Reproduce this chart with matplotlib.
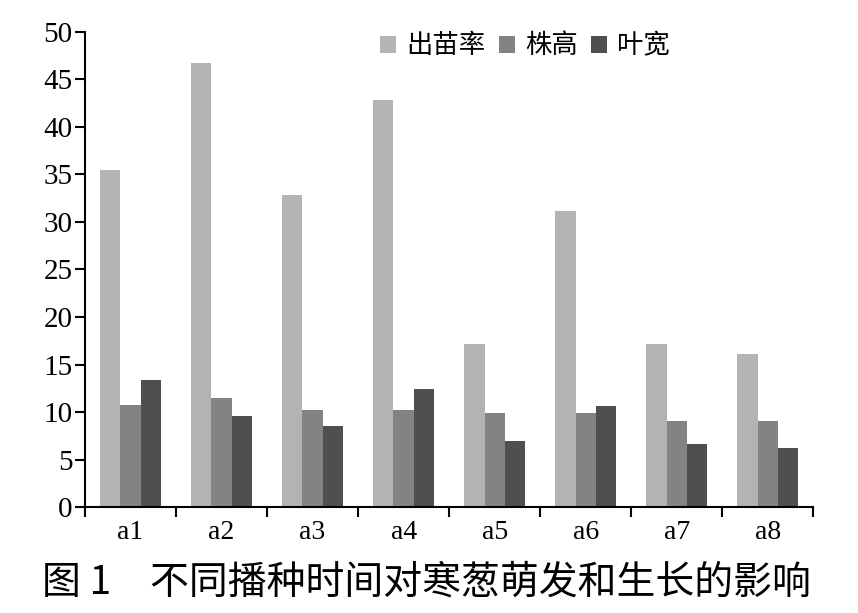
import numpy as np
import matplotlib.pyplot as plt

plt.rcParams['font.family'] = ['Liberation Serif', 'Noto Sans CJK SC', 'DejaVu Sans']

groups = ['a1', 'a2', 'a3', 'a4', 'a5', 'a6', 'a7', 'a8']
series_names = ['出苗率', '株高', '叶宽']
emergence = [35.5, 46.7, 32.8, 42.8, 17.2, 31.1, 17.2, 16.1]
height = [10.8, 11.5, 10.2, 10.2, 9.9, 9.9, 9.1, 9.1]
leaf_width = [13.4, 9.6, 8.6, 12.4, 7.0, 10.7, 6.7, 6.2]
colors = ['#b3b3b3', '#838383', '#4f4f4f']

fig = plt.figure(figsize=(8.58, 6.13), dpi=100)
ax = fig.add_axes([0.099, 0.1724, 0.849, 0.776])

x = np.arange(len(groups))
w = 0.223
for i, (vals, name) in enumerate(zip([emergence, height, leaf_width], series_names)):
    ax.bar(x + (i - 1) * w, vals, w, color=colors[i], label=name)

ax.set_xlim(-0.5, len(groups) - 0.5)
ax.set_ylim(0, 50)
ax.set_yticks(np.arange(0, 51, 5))
ax.set_xticks(np.arange(-0.5, len(groups), 1.0))
ax.set_xticklabels([])
ax.set_xticks(x, minor=True)
ax.set_xticklabels(groups, minor=True, fontsize=20)
ax.tick_params(axis='x', which='minor', length=0, pad=9)
ax.tick_params(axis='x', which='major', direction='out', length=7, width=1.5)
ax.tick_params(axis='y', direction='out', length=7, width=1.5, labelsize=21, pad=2)
for s in ['top', 'right']:
    ax.spines[s].set_visible(False)
for s in ['left', 'bottom']:
    ax.spines[s].set_linewidth(1.5)

fig.legend(loc='center', bbox_to_anchor=(0.612, 0.925), ncol=3, frameon=False,
           prop={'family': ['Noto Sans CJK SC'], 'size': 19},
           handlelength=0.6, handleheight=0.6, handletextpad=0.4, columnspacing=0.5)

fig.text(0.497, 0.05, '图 1\u3000不同播种时间对寒葱萌发和生长的影响', ha='center', va='center',
         fontsize=28, family=['Noto Sans CJK SC'])

fig.savefig('out.png', dpi=100)
